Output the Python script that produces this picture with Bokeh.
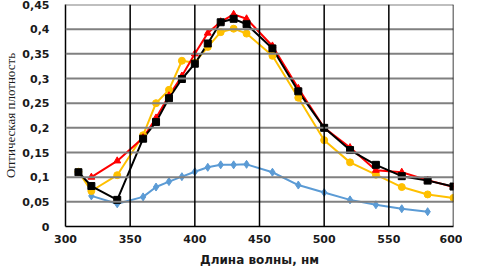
from bokeh.plotting import figure
from bokeh.models import Range1d, FixedTicker, CustomJSTickFormatter, Span
from bokeh.embed import file_html
from bokeh.resources import INLINE

# ---- data ----
x_blue = [320, 340, 360, 370, 380, 390, 400, 410, 420, 430, 440, 460, 480, 500, 520, 540, 560, 580]
y_blue = [0.062, 0.046, 0.060, 0.080, 0.091, 0.101, 0.111, 0.120, 0.125, 0.125, 0.126, 0.110, 0.084,
          0.069, 0.054, 0.044, 0.036, 0.030]

x_red = [320, 340, 360, 370, 380, 390, 400, 410, 420, 430, 440, 460, 480, 500, 520, 540, 560, 580, 600]
y_red = [0.100, 0.133, 0.180, 0.220, 0.265, 0.305, 0.350, 0.392, 0.415, 0.430, 0.421, 0.366, 0.280,
         0.200, 0.160, 0.114, 0.110, 0.094, 0.080]

x_black = [310, 320, 340, 360, 370, 380, 390, 400, 410, 420, 430, 440, 460, 480, 500, 520, 540, 560, 580, 600]
y_black = [0.110, 0.082, 0.054, 0.178, 0.212, 0.260, 0.299, 0.330, 0.371, 0.414, 0.421, 0.410, 0.361,
           0.274, 0.200, 0.155, 0.125, 0.102, 0.093, 0.081]

x_yellow = [310, 320, 340, 360, 370, 380, 390, 400, 410, 420, 430, 440, 460, 480, 500, 520, 540, 560, 580, 600]
y_yellow = [0.111, 0.072, 0.104, 0.185, 0.250, 0.277, 0.336, 0.332, 0.364, 0.394, 0.401, 0.391, 0.346,
            0.261, 0.175, 0.130, 0.105, 0.080, 0.065, 0.058]

x_ticks = [300, 350, 400, 450, 500, 550, 600]
y_ticks = [0, 0.05, 0.1, 0.15, 0.2, 0.25, 0.3, 0.35, 0.4, 0.45]
y_tick_labels = ["0", "0,05", "0,1", "0,15", "0,2", "0,25", "0,3", "0,35", "0,4", "0,45"]

x_title = "Длина волны, нм"
y_title = "Оптическая плотность"

# ---- figure ----
p = figure(width=462, height=269, output_backend="svg", toolbar_location=None,
           x_range=Range1d(x_ticks[0], x_ticks[-1]), y_range=Range1d(y_ticks[0], y_ticks[-1]),
           min_border_left=58, min_border_right=9, min_border_top=4, min_border_bottom=30)
p.outline_line_color = None
p.background_fill_color = "white"
p.border_fill_color = "white"
p.xgrid.visible = False
p.ygrid.visible = False

p.xaxis.ticker = FixedTicker(ticks=x_ticks)
p.yaxis.ticker = FixedTicker(ticks=y_ticks)
p.yaxis.formatter = CustomJSTickFormatter(args=dict(tvals=y_ticks, tlabels=y_tick_labels), code="""
for (let i = 0; i < tvals.length; i++) { if (Math.abs(tvals[i] - tick) < 1e-9) return tlabels[i]; }
return String(tick).replace('.', ',');
""")

for ax in (p.xaxis[0], p.yaxis[0]):
    ax.axis_line_color = "black"
    ax.axis_line_width = 1.5
    ax.major_tick_in = 0
    ax.major_tick_out = 0
    ax.minor_tick_in = 0
    ax.minor_tick_out = 0
    ax.major_label_text_font = "DejaVu Sans"
    ax.major_label_text_font_style = "bold"
    ax.major_label_text_font_size = "11px"
    ax.major_label_text_color = "#1a1a1a"

p.xaxis.major_label_standoff = 8
p.yaxis.major_label_standoff = 16

p.xaxis.axis_label = x_title
p.xaxis.axis_label_text_font = "DejaVu Sans"
p.xaxis.axis_label_text_font_style = "bold"
p.xaxis.axis_label_text_font_size = "12px"
p.xaxis.axis_label_text_color = "#1a1a1a"
p.xaxis.axis_label_standoff = 7

p.yaxis.axis_label = y_title
p.yaxis.axis_label_text_font = "Liberation Sans Narrow"
p.yaxis.axis_label_text_font_style = "normal"
p.yaxis.axis_label_text_font_size = "13px"
p.yaxis.axis_label_text_color = "#1a1a1a"
p.yaxis.axis_label_standoff = 1

# ---- grid lines as spans at the tick positions ----
for t in y_ticks[1:]:
    p.add_layout(Span(location=t, dimension="width", line_color="#808080", line_width=2))
for t in x_ticks[1:]:
    p.add_layout(Span(location=t, dimension="height", line_color="black", line_width=1.5))

series = [
    (x_blue, y_blue, "#5B9BD5", "diamond", 8),
    (x_yellow, y_yellow, "#FFC000", "circle", 7),
    (x_red, y_red, "#FF0000", "triangle", 7),
    (x_black, y_black, "#000000", "square", 7),
]
for xs, ys, col, mk, sz in series:
    p.line(xs, ys, line_color=col, line_width=2, line_join="round")
for xs, ys, col, mk, sz in series:
    p.scatter(xs, ys, marker=mk, size=sz, fill_color=col, line_color=col)

open("out.html", "w").write(file_html(p, INLINE))
